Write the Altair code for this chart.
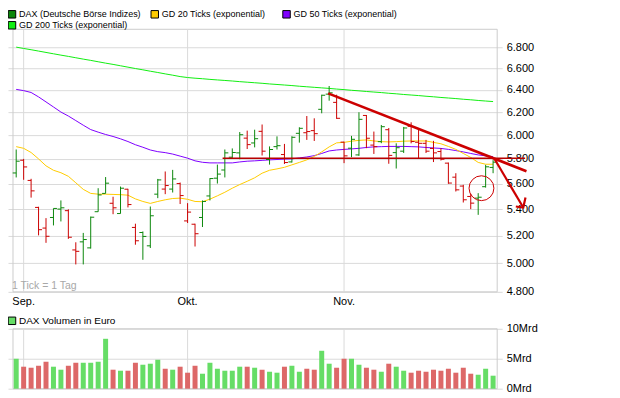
import altair as alt
import pandas as pd

# ---------------- data ----------------
bar_no = list(range(1, 66))  # trading days 31 Aug .. 29 Nov

open_ = [5685, 5789, 5625, 5413, 5256, 5336, 5400, 5388, 5095, 5154,
         5110, 5380, 5522, 5445, 5366, 5555, 5261, 5223, 5125, 5516,
         5556, 5556, 5600, 5310, 5285, 5336, 5502, 5643, 5709, 5814,
         5850, 5974, 5933, 6032, 5795, 5902, 5836, 5775, 6015, 6020,
         6038, 6224, 6360, 6286, 5940, 5889, 5833, 6170, 5915, 5944,
         6046, 5852, 5864, 6075, 5939, 5930, 5887, 5861, 5765, 5651,
         5580, 5498, 5485, 5575, 5730]
high = [5878, 5800, 5638, 5418, 5331, 5405, 5467, 5398, 5151, 5220,
        5343, 5563, 5652, 5496, 5576, 5558, 5289, 5231, 5420, 5637,
        5697, 5710, 5608, 5446, 5289, 5467, 5643, 5753, 5878, 5887,
        6026, 6038, 6046, 6091, 5904, 5989, 5925, 5990, 6067, 6165,
        6145, 6355, 6434, 6355, 5944, 5993, 6198, 6174, 6030, 6087,
        6061, 5930, 6070, 6110, 6061, 5959, 5951, 5889, 5770, 5683,
        5590, 5519, 5524, 5751, 5790]
low = [5649, 5630, 5489, 5202, 5147, 5276, 5306, 5176, 4991, 4991,
       5105, 5380, 5522, 5361, 5366, 5413, 5133, 5024, 5109, 5485,
       5516, 5529, 5439, 5294, 5120, 5264, 5467, 5600, 5649, 5808,
       5797, 5882, 5896, 5828, 5753, 5878, 5758, 5770, 5936, 5959,
       5950, 6189, 6301, 6140, 5765, 5814, 5825, 5889, 5841, 5931,
       5760, 5721, 5849, 5930, 5800, 5849, 5774, 5787, 5598, 5537,
       5451, 5400, 5356, 5568, 5683]
close = [5781, 5734, 5542, 5244, 5195, 5405, 5410, 5188, 5085, 5171,
         5338, 5510, 5603, 5410, 5563, 5435, 5162, 5194, 5349, 5629,
         5584, 5637, 5505, 5377, 5214, 5459, 5640, 5676, 5850, 5853,
         6003, 5919, 5969, 5864, 5878, 5910, 5770, 5981, 6058, 6030,
         6012, 6350, 6372, 6145, 5825, 5964, 6136, 5973, 5902, 6072,
         5829, 5893, 6061, 5945, 5930, 5864, 5850, 5797, 5604, 5550,
         5472, 5446, 5492, 5735, 5773]
volume_mrd = [5.0, 3.67, 3.5, 3.83, 4.5, 3.67, 3.17, 3.83, 4.33, 4.33,
              4.33, 4.5, 8.33, 3.17, 3.0, 3.0, 4.33, 4.0, 4.17, 4.83,
              3.33, 3.17, 3.67, 2.67, 3.83, 2.5, 4.33, 3.33, 3.0, 3.0,
              3.67, 3.67, 3.5, 3.17, 2.83, 2.67, 3.67, 3.83, 2.83, 3.33,
              3.17, 6.33, 4.17, 3.5, 5.0, 5.0, 4.0, 3.5, 3.17, 2.83,
              4.17, 3.67, 3.0, 2.67, 3.0, 2.83, 3.17, 3.0, 3.33, 2.67,
              3.5, 2.5, 2.33, 3.33, 2.17]
gd20 = [5902, 5888, 5853, 5800, 5743, 5707, 5687, 5658, 5606, 5554,
        5522, 5516, 5516, 5514, 5512, 5508, 5479, 5459, 5444, 5459,
        5472, 5482, 5485, 5476, 5459, 5457, 5477, 5503, 5531, 5563,
        5592, 5618, 5646, 5683, 5707, 5718, 5731, 5751, 5771, 5792,
        5820, 5858, 5900, 5934, 5938, 5948, 5955, 5959, 5950, 5944,
        5942, 5944, 5948, 5950, 5950, 5950, 5938, 5926, 5904, 5879,
        5845, 5812, 5771, 5756, 5756]
gd50 = [6403, 6392, 6375, 6335, 6290, 6245, 6200, 6165, 6125, 6085,
        6047, 6025, 6005, 5988, 5968, 5945, 5918, 5897, 5874, 5860,
        5852, 5840, 5823, 5806, 5784, 5772, 5767, 5767, 5767, 5767,
        5775, 5781, 5784, 5788, 5792, 5795, 5798, 5800, 5808, 5816,
        5827, 5845, 5866, 5874, 5879, 5883, 5888, 5895, 5900, 5902,
        5904, 5904, 5904, 5902, 5900, 5895, 5891, 5887, 5879, 5869,
        5858, 5845, 5833, 5825, 5819]
gd200 = [6800, 6787, 6775, 6762, 6749, 6736, 6723, 6711, 6698, 6685,
         6673, 6660, 6647, 6635, 6622, 6609, 6596, 6584, 6571, 6559,
         6546, 6534, 6521, 6512, 6506, 6501, 6495, 6490, 6485, 6480,
         6474, 6469, 6464, 6459, 6453, 6448, 6443, 6438, 6432, 6427,
         6422, 6417, 6412, 6406, 6401, 6395, 6390, 6384, 6379, 6374,
         6368, 6363, 6357, 6352, 6347, 6341, 6336, 6330, 6325, 6320,
         6314, 6309, 6303, 6298, 6293]

month_labels = ["Sep.", "Okt.", "Nov."]
month_first_bar = [2, 24, 45]
price_ticks = [4800, 5000, 5200, 5400, 5600, 5800, 6000, 6200, 6400, 6600, 6800]
volume_ticks = [0, 5, 10]

# drawn annotations (in bar / index units)
hline_bars = [28.7, 69.3]
hline_values = [5805, 5805]
trend_bars = [42.86, 69.48]
trend_values = [6367, 5699]
arrow_seg = [0, 0, 1, 1, 1]
arrow_bars = [65.16, 69.05, 68.05, 69.05, 69.35]
arrow_values = [5803, 5412, 5420, 5412, 5490]
circle_bar = [63.44]
circle_value = [5563]

legend_labels = ["DAX (Deutsche Börse Indizes)", "GD 20 Ticks (exponential)",
                 "GD 50 Ticks (exponential)", "GD 200 Ticks (exponential)"]
volume_legend_label = "DAX Volumen in Euro"
tick_note = "1 Tick = 1 Tag"

# ---------------- styling ----------------
UP, DOWN = "#0b870b", "#cc0000"
VUP, VDOWN = "#66dd66", "#dd6868"
C20, C50, C200 = "#ffcc00", "#8000ff", "#11ee11"
GRID = "#dadada"
X_DOMAIN = [0.57, 65.55]
P_DOMAIN = [4800, 6975]
V_DOMAIN = [0, 10]

direction = []
for i, c in enumerate(close):
    ref = open_[0] if i == 0 else close[i - 1]
    direction.append(c >= ref)

bars = pd.DataFrame({
    "bar": bar_no, "open": open_, "high": high, "low": low, "close": close,
    "vol": volume_mrd, "gd20": gd20, "gd50": gd50, "gd200": gd200,
    "pcol": [UP if d else DOWN for d in direction],
    "vcol": [VUP if d else VDOWN for d in direction],
})

xs = alt.Scale(domain=X_DOMAIN, nice=False, zero=False)
ps = alt.Scale(type="log", domain=P_DOMAIN, range=[263, 0], nice=False)
vs = alt.Scale(domain=V_DOMAIN, range=[360, 300], nice=False)

price_axis = alt.Axis(orient="right", values=price_ticks,
                      labelExpr="replace(format(datum.value, ',.0f'), ',', '.')",
                      grid=True, gridColor=GRID, gridWidth=1, domain=False,
                      ticks=False, tickSize=0, labelPadding=4, labelFontSize=11,
                      labelColor="#000000", title=None)
vol_axis = alt.Axis(orient="right", values=volume_ticks,
                    labelExpr="datum.value + 'Mrd'",
                    grid=True, gridColor=GRID, gridWidth=1, domain=False,
                    ticks=False, tickSize=0, labelPadding=4, labelFontSize=11,
                    labelColor="#000000", title=None)


def X(f):
    return alt.X(f, type="quantitative", scale=xs, axis=None)


def PY(f):
    return alt.Y(f, type="quantitative", scale=ps, axis=price_axis)


def VY(f):
    return alt.Y(f, type="quantitative", scale=vs, axis=vol_axis)


frame = pd.DataFrame({"x0": [X_DOMAIN[0]], "x1": [X_DOMAIN[1]],
                      "p0": [P_DOMAIN[0]], "p1": [P_DOMAIN[1]],
                      "v0": [V_DOMAIN[0]], "v1": [V_DOMAIN[1]]})
months = pd.DataFrame({"bar": month_first_bar, "label": month_labels,
                       "p0": P_DOMAIN[0], "p1": P_DOMAIN[1],
                       "v0": V_DOMAIN[0], "v1": V_DOMAIN[1]})

base = alt.Chart(bars)

# ---- price panel ----
border_p = alt.Chart(frame).mark_rect(fillOpacity=0, stroke="#cccccc", strokeWidth=1).encode(
    x=X("x0"), x2="x1", y=PY("p0"), y2="p1")
vgrid_p = alt.Chart(months).mark_rule(color=GRID, strokeWidth=1).encode(
    x=X("bar"), y=PY("p0"), y2="p1")
l200 = base.mark_line(color=C200, strokeWidth=1).encode(x=X("bar"), y=PY("gd200"))
l50 = base.mark_line(color=C50, strokeWidth=1).encode(x=X("bar"), y=PY("gd50"))
l20 = base.mark_line(color=C20, strokeWidth=1).encode(x=X("bar"), y=PY("gd20"))
hl = base.mark_rule(strokeWidth=1).encode(
    x=X("bar"), y=PY("low"), y2="high", color=alt.Color("pcol:N", scale=None))
op = base.mark_rule(strokeWidth=1, xOffset=-3.5, x2Offset=0).encode(
    x=X("bar"), x2="bar", y=PY("open"), color=alt.Color("pcol:N", scale=None))
cl = base.mark_rule(strokeWidth=1, xOffset=0, x2Offset=3.5).encode(
    x=X("bar"), x2="bar", y=PY("close"), color=alt.Color("pcol:N", scale=None))

hline = alt.Chart(pd.DataFrame({"bar": hline_bars, "v": hline_values})).mark_line(
    color="#b80000", strokeWidth=1.5).encode(x=X("bar"), y=PY("v"))
trend = alt.Chart(pd.DataFrame({"bar": trend_bars, "v": trend_values})).mark_line(
    color="#cc0000", strokeWidth=2.6).encode(x=X("bar"), y=PY("v"))
arrow = alt.Chart(pd.DataFrame({"seg": arrow_seg, "ord": list(range(len(arrow_seg))),
                                "bar": arrow_bars, "v": arrow_values})).mark_line(
    color="#cc0000", strokeWidth=2.2).encode(
    x=X("bar"), y=PY("v"), detail="seg:N", order="ord:Q")
circle = alt.Chart(pd.DataFrame({"bar": circle_bar, "v": circle_value})).mark_point(
    shape="circle", size=620, filled=False, color="#cc0000", strokeWidth=1, opacity=1).encode(
    x=X("bar"), y=PY("v"))
note = alt.Chart(pd.DataFrame({"t": [tick_note]})).mark_text(
    align="left", baseline="middle", fontSize=10.5, color="#a8a8a8").encode(
    x=alt.value(4), y=alt.value(257), text="t:N")
mlab = alt.Chart(months).mark_text(align="center", baseline="middle", fontSize=11,
                                   dy=10, color="#000000").encode(
    x=X("bar"), y=PY("p0"), text="label:N")

price = alt.layer(border_p, vgrid_p, l200, l50, l20, hl, op, cl,
                  hline, trend, arrow, circle, note, mlab)

# ---- volume panel ----
border_v = alt.Chart(frame).mark_rect(fillOpacity=0, stroke="#cccccc", strokeWidth=1).encode(
    x=X("x0"), x2="x1", y=VY("v0"), y2="v1")
vgrid_v = alt.Chart(months).mark_rule(color=GRID, strokeWidth=1).encode(
    x=X("bar"), y=VY("v0"), y2="v1")
vbars = base.mark_bar(size=5).encode(
    x=X("bar"), y=VY("vol"), color=alt.Color("vcol:N", scale=None))
volume = alt.layer(border_v, vgrid_v, vbars)


# ---- legends ----
def legend_item(label, color, x, y, fs):
    d = alt.Chart(pd.DataFrame({"label": [label]}))
    sq = d.mark_square(size=56, filled=True, color=color, stroke="#000000",
                       strokeWidth=1, opacity=1).encode(x=alt.value(x), y=alt.value(y))
    tx = d.mark_text(align="left", baseline="middle", fontSize=fs, color="#000000").encode(
        x=alt.value(x + 7), y=alt.value(y), text="label:N")
    return [sq, tx]


leg = []
leg += legend_item(legend_labels[0], UP, 4, -15, 9)
leg += legend_item(legend_labels[1], C20, 147, -15, 9)
leg += legend_item(legend_labels[2], C50, 279, -15, 9)
leg += legend_item(legend_labels[3], C200, 4, -4, 9)
leg += legend_item(volume_legend_label, VUP, 4, 292, 10)
legend = alt.layer(*leg)

chart = alt.layer(price, volume, legend).resolve_scale(
    y="independent").resolve_axis(y="independent").properties(
    width=495, height=360,
    autosize=alt.AutoSizeParams(type="none"),
    padding={"left": 0, "top": 21, "right": 110, "bottom": 8},
    background="#ffffff",
).configure(font="Liberation Sans").configure_view(strokeWidth=0)

chart.save("out.html", embed_options={"renderer": "svg", "actions": False})
